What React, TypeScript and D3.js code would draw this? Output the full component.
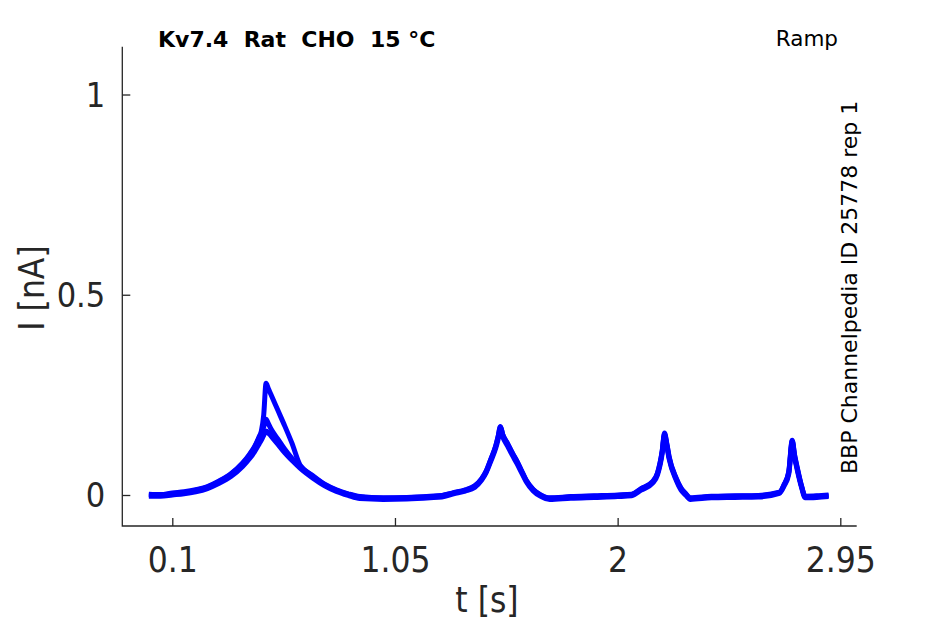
import React, { useEffect, useRef } from 'react';
import * as d3 from 'd3';

// time samples (s) shared by all sweeps
const time = [
  0.0, 0.05, 0.1, 0.15, 0.2, 0.25, 0.3, 0.35, 0.4, 0.43, 0.45, 0.47, 0.48, 0.49, 0.5, 0.51, 0.52,
  0.55, 0.58, 0.61, 0.645, 0.7, 0.75, 0.8, 0.85, 0.9, 1.0, 1.1, 1.2, 1.25, 1.3, 1.35, 1.39, 1.42,
  1.44, 1.46, 1.48, 1.49, 1.5, 1.51, 1.53, 1.55, 1.57, 1.59, 1.61, 1.64, 1.67, 1.71, 1.8, 1.9, 2.0,
  2.06, 2.1, 2.15, 2.17, 2.19, 2.2, 2.21, 2.22, 2.25, 2.27, 2.29, 2.31, 2.4, 2.5, 2.6, 2.69, 2.71,
  2.73, 2.745, 2.755, 2.765, 2.785, 2.8, 2.85, 2.9,
];

// current (nA), three sweeps
const sweepA = [
  0.002, 0.001, 0.005, 0.008, 0.013, 0.021, 0.035, 0.053, 0.08, 0.102, 0.12, 0.145, 0.16, 0.2, 0.279,
  0.265, 0.252, 0.212, 0.172, 0.13, 0.075, 0.048, 0.027, 0.013, 0.003, -0.004, -0.007, -0.006, -0.003,
  -0.001, 0.006, 0.013, 0.023, 0.041, 0.061, 0.091, 0.123, 0.146, 0.171, 0.151, 0.129, 0.106, 0.085,
  0.061, 0.037, 0.014, 0.001, -0.007, -0.004, -0.002, 0.0, 0.002, 0.016, 0.034, 0.055, 0.11, 0.155,
  0.128, 0.095, 0.042, 0.018, 0.004, -0.007, -0.003, -0.002, -0.001, 0.007, 0.026, 0.058, 0.137, 0.1,
  0.072, 0.022, -0.003, -0.002, 0.0,
];
const sweepB = [
  0.0, 0.0, 0.003, 0.006, 0.012, 0.02, 0.034, 0.052, 0.078, 0.1, 0.118, 0.142, 0.155, 0.17, 0.189,
  0.178, 0.166, 0.14, 0.114, 0.092, 0.072, 0.046, 0.026, 0.012, 0.002, -0.005, -0.008, -0.007, -0.004,
  -0.002, 0.005, 0.012, 0.022, 0.04, 0.06, 0.09, 0.122, 0.145, 0.17, 0.15, 0.128, 0.105, 0.084, 0.06,
  0.036, 0.013, 0.0, -0.008, -0.005, -0.003, -0.001, 0.001, 0.015, 0.033, 0.054, 0.108, 0.152, 0.126,
  0.093, 0.04, 0.016, 0.003, -0.008, -0.004, -0.003, -0.002, 0.006, 0.025, 0.056, 0.135, 0.098, 0.07,
  0.021, -0.004, -0.003, -0.001,
];
const sweepC = [
  -0.003, -0.003, 0.0, 0.003, 0.008, 0.016, 0.029, 0.046, 0.071, 0.091, 0.107, 0.127, 0.137, 0.149,
  0.16, 0.155, 0.148, 0.127, 0.105, 0.087, 0.067, 0.042, 0.023, 0.009, -0.001, -0.009, -0.011, -0.01,
  -0.007, -0.005, 0.003, 0.01, 0.019, 0.037, 0.057, 0.086, 0.117, 0.139, 0.165, 0.145, 0.123, 0.1,
  0.079, 0.056, 0.033, 0.01, -0.003, -0.011, -0.008, -0.006, -0.004, -0.002, 0.012, 0.03, 0.05, 0.103,
  0.148, 0.121, 0.089, 0.037, 0.013, 0.0, -0.011, -0.007, -0.006, -0.005, 0.004, 0.022, 0.052, 0.13,
  0.093, 0.066, 0.018, -0.007, -0.006, -0.004,
];
const sweeps = [sweepA, sweepB, sweepC];

const xTicks = [0.1, 1.05, 2, 2.95];
const yTicks = [0, 0.5, 1];

const W = 945;
const H = 624;
const axisColor = '#262626';
const tickFont = "'DejaVu Sans Condensed', 'DejaVu Sans', sans-serif";

export default function App() {
  const ref = useRef<SVGSVGElement>(null);

  useEffect(() => {
    if (!ref.current) return;
    const svg = d3.select(ref.current);
    svg.selectAll('*').remove();

    const x = d3.scaleLinear().domain([0.1, 2.95]).range([172.3, 840.3]);
    const y = d3.scaleLinear().domain([0, 1]).range([495, 94.5]);
    const left = 122.3, right = 856.7, top = 46.7, bottom = 526;

    // traces
    const line = d3
      .line<number>()
      .x((_, i) => x(time[i]))
      .y((d) => y(d))
      .curve(d3.curveMonotoneX);
    svg
      .append('g')
      .selectAll('path')
      .data(sweeps)
      .enter()
      .append('path')
      .attr('d', (d) => line(d))
      .attr('fill', 'none')
      .attr('stroke', '#0000ff')
      .attr('stroke-width', 5)
      .attr('stroke-linejoin', 'round');

    // x axis
    const gx = svg
      .append('g')
      .attr('transform', `translate(0,${bottom})`)
      .call(
        d3.axisBottom(x).tickValues(xTicks).tickSizeInner(-8).tickSizeOuter(0).tickFormat((d) => String(d))
      );
    gx.select('.domain').remove();
    gx.selectAll('line').attr('stroke', axisColor).attr('stroke-width', 1.3);
    gx.selectAll('text')
      .attr('y', 46)
      .attr('dy', 0)
      .attr('fill', axisColor)
      .style('font-family', tickFont)
      .style('font-stretch', 'condensed')
      .style('font-size', '35px');

    // y axis
    const gy = svg
      .append('g')
      .attr('transform', `translate(${left},0)`)
      .call(
        d3.axisLeft(y).tickValues(yTicks).tickSizeInner(-8).tickSizeOuter(0).tickFormat((d) => String(d))
      );
    gy.select('.domain').remove();
    gy.selectAll('line').attr('stroke', axisColor).attr('stroke-width', 1.3);
    gy.selectAll('text')
      .attr('x', -17)
      .attr('dy', '0.35em')
      .attr('fill', axisColor)
      .style('font-family', tickFont)
      .style('font-stretch', 'condensed')
      .style('font-size', '34px');

    // axis lines
    svg
      .append('path')
      .attr('d', `M${left},${top}V${bottom}H${right}`)
      .attr('fill', 'none')
      .attr('stroke', axisColor)
      .attr('stroke-width', 1.3);

    // axis labels
    svg
      .append('text')
      .attr('x', 487)
      .attr('y', 612)
      .attr('text-anchor', 'middle')
      .attr('fill', axisColor)
      .style('font-family', tickFont)
      .style('font-stretch', 'condensed')
      .style('font-size', '35px')
      .text('t [s]');
    svg
      .append('text')
      .attr('transform', 'translate(44,288) rotate(-90)')
      .attr('text-anchor', 'middle')
      .attr('fill', axisColor)
      .style('font-family', tickFont)
      .style('font-stretch', 'condensed')
      .style('font-size', '35px')
      .text('I [nA]');

    // annotations
    svg
      .append('text')
      .attr('x', 158)
      .attr('y', 47)
      .attr('fill', '#000')
      .style('font-family', "'DejaVu Sans', sans-serif")
      .style('font-weight', 'bold')
      .style('font-size', '22px')
      .style('white-space', 'pre')
      .text('Kv7.4  Rat  CHO  15 °C');
    svg
      .append('text')
      .attr('x', 838)
      .attr('y', 46)
      .attr('text-anchor', 'end')
      .attr('fill', '#000')
      .style('font-family', "'DejaVu Sans', sans-serif")
      .style('font-size', '21.5px')
      .text('Ramp');
    svg
      .append('text')
      .attr('transform', 'translate(857,474) rotate(-90)')
      .attr('fill', '#000')
      .style('font-family', "'DejaVu Sans', sans-serif")
      .style('font-size', '22px')
      .text('BBP Channelpedia ID 25778 rep 1');
  }, []);

  return (
    <svg
      ref={ref}
      width={W}
      height={H}
      style={{ position: 'absolute', left: 0, top: 0, background: '#fff' }}
    />
  );
}
